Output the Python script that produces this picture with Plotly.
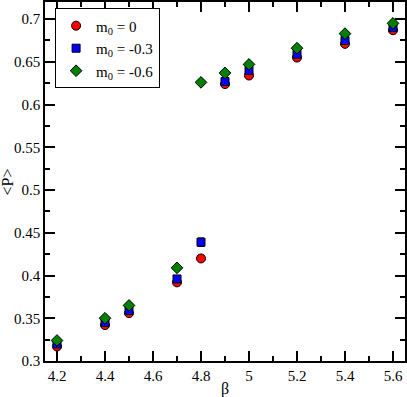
import plotly.graph_objects as go

beta = [4.2, 4.4, 4.5, 4.7, 4.8, 4.9, 5.0, 5.2, 5.4, 5.6]

p_m0_0 = [0.317, 0.342, 0.356, 0.392, 0.420, 0.624, 0.634, 0.655, 0.671, 0.687]
p_m0_03 = [0.320, 0.345, 0.359, 0.396, 0.439, 0.627, 0.640, 0.659, 0.675, 0.690]
p_m0_06 = [0.324, 0.350, 0.365, 0.409, 0.626, 0.637, 0.647, 0.666, 0.683, 0.695]

err_m0_0 = [0.002, 0.002, 0.002, 0.002, 0.002, 0.002, 0.002, 0.002, 0.002, 0.002]
err_m0_03 = [0.002, 0.002, 0.002, 0.002, 0.005, 0.002, 0.002, 0.002, 0.002, 0.002]
err_m0_06 = [0.002, 0.002, 0.002, 0.002, 0.002, 0.002, 0.002, 0.002, 0.002, 0.002]

series = [
    ("m<sub>0</sub> = 0", p_m0_0, err_m0_0, "circle", "#ff0000", 9),
    ("m<sub>0</sub> = -0.3", p_m0_03, err_m0_03, "square", "#0000ff", 8),
    ("m<sub>0</sub> = -0.6", p_m0_06, err_m0_06, "diamond", "#008000", 9),
]

font = "Liberation Serif, Times New Roman, serif"
tfont = dict(family=font, size=15, color="black")

fig = go.Figure()
for name, vals, errs, sym, col, size in series:
    fig.add_trace(go.Scatter(
        x=beta, y=vals, name=name, mode="markers",
        marker=dict(symbol=sym, color=col, size=size,
                    line=dict(color="black", width=1)),
        error_y=dict(type="data", array=errs, color="black",
                     thickness=1, width=3),
    ))

axis_common = dict(
    showgrid=False, zeroline=False, showline=True, linecolor="black",
    linewidth=1.5, mirror="ticks", ticks="inside", ticklen=10,
    tickcolor="black", tickwidth=1.5, automargin=False,
    tickfont=tfont,
)

fig.update_xaxes(
    range=[4.15, 5.65], tickvals=[4.2, 4.4, 4.6, 4.8, 5.0, 5.2, 5.4, 5.6],
    ticktext=["4.2", "4.4", "4.6", "4.8", "5", "5.2", "5.4", "5.6"],
    minor=dict(dtick=0.1, tick0=4.1, ticks="inside", ticklen=5,
               tickcolor="black", tickwidth=1.5),
    **axis_common,
)
fig.update_yaxes(
    range=[0.3, 0.72],
    tickvals=[0.3, 0.35, 0.4, 0.45, 0.5, 0.55, 0.6, 0.65, 0.7],
    ticktext=["0.3", "0.35", "0.4", "0.45", "0.5", "0.55", "0.6", "0.65", "0.7"],
    minor=dict(dtick=0.025, tick0=0.3, ticks="inside", ticklen=5,
               tickcolor="black", tickwidth=1.5),
    **axis_common,
)

# axis titles placed as annotations so the margins stay fixed
fig.add_annotation(text="&lt;P&gt;", xref="paper", yref="paper", x=-0.103, y=0.5,
                   xanchor="center", yanchor="middle",
                   textangle=-90, showarrow=False,
                   font=dict(family=font, size=16, color="black"))
fig.add_annotation(text="β", xref="paper", yref="paper", x=0.5, y=-0.078,
                   xanchor="center", yanchor="middle",
                   showarrow=False, font=dict(family=font, size=16, color="black"))

fig.update_layout(
    width=407, height=397,
    margin=dict(l=45, r=2, t=2, b=36),
    plot_bgcolor="white", paper_bgcolor="white",
    font=tfont,
    showlegend=True,
    legend=dict(x=0.028, y=0.982, xanchor="left", yanchor="top",
                bordercolor="black", borderwidth=1, bgcolor="white",
                font=dict(family=font, size=15, color="black"),
                tracegroupgap=0),
)

fig.write_html("out.html", config={"displayModeBar": False},
               post_script="document.body.style.margin='0';")
